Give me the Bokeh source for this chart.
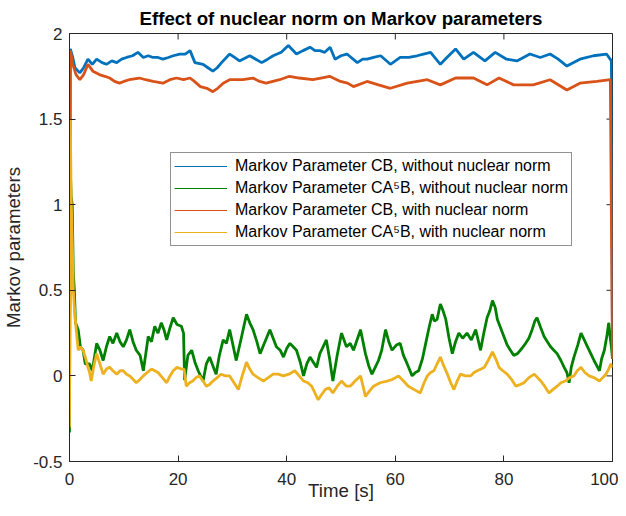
import math
from bokeh.plotting import figure
from bokeh.models import LinearAxis, Range1d, FixedTicker, Legend, LegendItem, ColumnDataSource
from bokeh.embed import file_html
from bokeh.resources import INLINE

title_text = "Effect of nuclear norm on Markov parameters"
x_label = "Time [s]"
y_label = "Markov parameters"
x_min, x_max = 0, 100
y_min, y_max = -0.5, 2
x_ticks = [0, 20, 40, 60, 80, 100]
x_tick_labels = ["0", "20", "40", "60", "80", "100"]
y_ticks = [-0.5, 0, 0.5, 1, 1.5, 2]
y_tick_labels = ["-0.5", "0", "0.5", "1", "1.5", "2"]

series_names = [
    "Markov Parameter CB, without nuclear norm",
    "Markov Parameter CA\u2075B, without nuclear norm",
    "Markov Parameter CB, with nuclear norm",
    "Markov Parameter CA\u2075B, with nuclear norm",
]
series_colors = ["#0072BD", "#008000", "#D95319", "#EDB120"]

# CB, without nuclear norm (blue)
t_cb_wo = [0, 0.15, 0.6, 1.0, 1.9, 2.6, 3.4, 4.2, 5, 6, 6.8, 7.8, 8.7, 9.6, 10.5, 11.6, 12.6, 13.6,
           14.5, 15.4, 16.3, 17.2, 18.2, 19.1, 20.3, 21.3, 22.2, 23.1, 24.6, 25.5, 26.4, 27.2, 28,
           29.5, 30.4, 31.3, 33.2, 34.3, 35.4, 36.5, 37.5, 39, 40.3, 41.8, 43, 44.3, 45.2, 46.1, 47,
           48, 48.9, 50, 51.1, 53, 54, 54.8, 56, 57.3, 59.1, 60.9, 62.5, 64, 65.2, 66.5, 68.3, 69.5,
           71.1, 72.6, 74.4, 76.5, 78.4, 80.5, 82.4, 84.8, 86.7, 88.5, 90, 91.6, 94, 96.5, 98.9,
           99.8, 100]
v_cb_wo = [0.05, 1.91, 1.86, 1.80, 1.77, 1.80, 1.85, 1.82, 1.85, 1.83, 1.82, 1.84, 1.83, 1.85, 1.86,
           1.87, 1.89, 1.86, 1.87, 1.86, 1.86, 1.85, 1.86, 1.87, 1.88, 1.88, 1.90, 1.83, 1.82, 1.80,
           1.78, 1.80, 1.83, 1.88, 1.86, 1.84, 1.87, 1.85, 1.83, 1.85, 1.87, 1.89, 1.93, 1.88, 1.90,
           1.92, 1.90, 1.90, 1.89, 1.92, 1.85, 1.87, 1.88, 1.83, 1.85, 1.85, 1.86, 1.87, 1.82, 1.86,
           1.86, 1.87, 1.88, 1.89, 1.82, 1.86, 1.91, 1.85, 1.89, 1.84, 1.89, 1.85, 1.84, 1.88, 1.86,
           1.88, 1.85, 1.81, 1.85, 1.87, 1.88, 1.84, 0.1]

# CA^5B, without nuclear norm (green)
t_ca5b_wo = [0, 0.15, 0.3, 0.5, 0.7, 0.9, 1.1, 1.6, 2.0, 2.5, 2.9, 3.7, 4.2, 5, 5.6, 6.2, 6.8, 7.4,
             8.0, 8.7, 9.3, 9.9, 10.5, 11.1, 11.7, 12.3, 13, 13.6, 14.5, 15.1, 15.7, 16.3, 16.9, 17.4,
             17.9, 18.5, 19.1, 19.8, 20.6, 21.0, 21.2, 21.8, 22.5, 23.1, 23.7, 24.6, 25.2, 25.8, 26.4,
             27, 27.6, 28.3, 28.9, 29.5, 30.1, 30.7, 31.7, 32.6, 33.2, 33.8, 34.5, 35.1, 36, 36.9,
             37.5, 38.1, 38.8, 39.4, 40, 40.6, 41.2, 41.8, 42.5, 43.1, 43.7, 44.3, 44.9, 45.5, 46.1,
             46.7, 47.3, 47.9, 48.5, 49.3, 50.1, 51, 51.7, 52.3, 53.6, 54.5, 55.1, 55.7, 56.3, 56.9,
             57.5, 58.2, 58.8, 59.4, 60.2, 60.9, 61.5, 62.2, 63.1, 63.7, 64.3, 65, 65.6, 66.2, 66.8,
             67.2, 67.7, 68.3, 68.8, 69.3, 69.9, 70.5, 71.1, 71.7, 72.4, 73.2, 74, 74.8, 75.7, 76.3,
             76.9, 77.4, 77.9, 78.4, 78.8, 79.4, 80, 80.6, 81.2, 81.8, 82.5, 83.3, 84, 84.6, 85.2,
             85.7, 86.1, 86.8, 87.4, 88, 88.6, 89.2, 89.8, 90.5, 91.1, 91.6, 92, 92.4, 92.9, 93.6,
             94.2, 94.8, 95.4, 96, 96.6, 97.1, 97.6, 98, 98.5, 99, 99.3, 99.6, 99.8, 100]
v_ca5b_wo = [-0.33, 1.21, 1.05, 1.0, 0.6, 0.5, 0.31, 0.27, 0.17, 0.15, 0.07, 0.07, 0.03, 0.19, 0.15,
             0.09, 0.17, 0.23, 0.19, 0.25, 0.20, 0.17, 0.21, 0.27, 0.20, 0.15, 0.12, 0.03, 0.23, 0.20,
             0.29, 0.25, 0.31, 0.27, 0.21, 0.28, 0.34, 0.30, 0.29, 0.25, -0.025, 0.12, 0.15, 0.08,
             0.03, -0.03, 0.07, 0.11, 0.06, 0.01, 0.12, 0.21, 0.19, 0.27, 0.18, 0.09, 0.23, 0.36,
             0.31, 0.27, 0.20, 0.13, 0.20, 0.27, 0.22, 0.17, 0.15, 0.11, 0.16, 0.19, 0.17, 0.15,
             0.08, 0.0, 0.07, 0.11, 0.08, 0.05, 0.13, 0.17, 0.21, 0.10, -0.03, 0.12, 0.25, 0.17,
             0.19, 0.15, 0.27, 0.13, 0.06, 0.01, 0.05, 0.09, 0.15, 0.27, 0.20, 0.15, 0.18, 0.19,
             0.12, 0.07, 0.0, 0.02, 0.03, 0.10, 0.19, 0.28, 0.36, 0.32, 0.33, 0.42, 0.38, 0.33,
             0.22, 0.13, 0.20, 0.25, 0.22, 0.25, 0.21, 0.27, 0.15, 0.25, 0.34, 0.38, 0.44, 0.40,
             0.33, 0.28, 0.23, 0.18, 0.15, 0.12, 0.13, 0.16, 0.19, 0.22, 0.27, 0.32, 0.34, 0.28,
             0.23, 0.20, 0.17, 0.15, 0.13, 0.09, 0.05, 0.02, -0.04, 0.05, 0.11, 0.18, 0.25, 0.21,
             0.17, 0.13, 0.09, 0.06, 0.03, 0.10, 0.15, 0.24, 0.31, 0.22, 0.17, 0.1]

# CB, with nuclear norm (orange)
t_cb_w = [0, 0.15, 0.6, 1.2, 1.9, 2.6, 3.4, 4.3, 5.5, 6.5, 7.4, 8.3, 9.2, 10, 11, 12.9, 14, 15.4,
          17.2, 18.5, 19.7, 21, 22.2, 23, 24.1, 25.3, 26.4, 27.3, 28.3, 29.5, 31.9, 33.8, 35, 36.2,
          38.7, 40.5, 42.3, 44.8, 46.3, 47.9, 49.9, 51.2, 52.3, 54.8, 56.9, 59.1, 62.2, 65.9, 68.3,
          71.1, 74.4, 76.9, 79.1, 81.8, 85.4, 88.5, 91.6, 94, 97.1, 99.6, 100]
v_cb_w = [0.05, 1.90, 1.82, 1.76, 1.73, 1.76, 1.82, 1.78, 1.76, 1.75, 1.74, 1.72, 1.71, 1.72, 1.73,
          1.74, 1.73, 1.72, 1.71, 1.73, 1.74, 1.73, 1.74, 1.72, 1.69, 1.68, 1.66, 1.68, 1.71, 1.73,
          1.73, 1.74, 1.72, 1.71, 1.73, 1.75, 1.74, 1.73, 1.74, 1.75, 1.72, 1.71, 1.69, 1.72, 1.70,
          1.68, 1.71, 1.73, 1.70, 1.74, 1.74, 1.70, 1.74, 1.70, 1.70, 1.73, 1.67, 1.71, 1.72, 1.73,
          0.1]

# CA^5B, with nuclear norm (yellow)
t_ca5b_w = [0, 0.15, 0.3, 0.5, 0.7, 1.0, 1.3, 1.6, 2.0, 2.5, 3.0, 3.4, 3.7, 4.0, 4.5, 5.0, 5.6, 6.2,
            6.8, 7.4, 8.0, 8.7, 9.3, 9.9, 10.5, 11.1, 11.7, 12.3, 13, 13.6, 14.3, 15.1, 15.7, 16.3,
            17.1, 17.9, 18.5, 19.1, 19.8, 20.6, 21.1, 21.5, 22.1, 22.7, 23.3, 23.9, 24.6, 25.2, 25.8,
            26.4, 27.2, 27.9, 28.7, 29.5, 30.3, 31.1, 31.8, 32.6, 33.2, 33.8, 34.7, 35.7, 36.6, 37.5,
            38.4, 39.4, 40.4, 41.5, 42.3, 43.1, 43.9, 44.6, 45.2, 45.8, 46.4, 47.1, 47.8, 48.5, 49.3,
            50.1, 51, 51.7, 52.6, 53.6, 54.5, 55.2, 56, 57.2, 58.5, 59.5, 60.6, 61.5, 62.4, 63.5,
            64.6, 65.3, 65.9, 66.5, 67.1, 67.7, 68.3, 68.9, 69.6, 70.2, 70.8, 71.4, 72, 72.9, 73.9,
            74.5, 75.1, 75.8, 76.4, 77.1, 77.9, 78.5, 79.1, 79.8, 80.6, 81.4, 82.2, 83, 83.7, 84.6,
            85.6, 86.2, 86.8, 87.5, 88.3, 89, 89.8, 90.5, 91.3, 92.1, 92.9, 93.5, 94.2, 94.9, 95.7,
            96.6, 97.6, 98.2, 98.8, 99.3, 99.7, 100]
v_ca5b_w = [-0.3, 1.5, 1.05, 0.8, 0.5, 0.35, 0.25, 0.15, 0.17, 0.15, 0.10, 0.05, 0.02, -0.03, 0.06,
            0.13, 0.07, 0.01, 0.04, 0.05, 0.03, 0.01, 0.03, 0.03, 0.01, 0.0, -0.02, -0.04, -0.02,
            0.0, 0.02, 0.04, 0.03, 0.02, -0.01, -0.04, 0.0, 0.03, 0.05, 0.04, 0.04, -0.06, -0.04,
            -0.03, -0.01, 0.0, -0.03, -0.06, -0.05, -0.03, -0.01, 0.01, 0.0, 0.0, -0.04, -0.08, 0.0,
            0.08, 0.04, 0.01, -0.01, -0.03, -0.01, 0.01, 0.01, 0.0, 0.01, 0.03, 0.0, -0.03, -0.04,
            -0.06, -0.10, -0.14, -0.11, -0.08, -0.07, -0.10, -0.06, -0.03, -0.06, -0.06, -0.03, 0.0,
            -0.12, -0.09, -0.06, -0.04, -0.03, -0.02, 0.0, -0.03, -0.06, -0.08, -0.10, -0.04, 0.0,
            0.02, 0.03, 0.07, 0.11, 0.06, 0.01, -0.04, -0.08, -0.03, 0.01, 0.0, 0.0, 0.02, 0.03,
            0.04, 0.05, 0.09, 0.14, 0.10, 0.05, 0.03, 0.01, -0.02, -0.06, -0.05, -0.04, -0.01, 0.01,
            -0.01, -0.03, -0.06, -0.10, -0.08, -0.06, -0.04, -0.03, -0.01, 0.0, 0.03, 0.05, 0.02,
            0.0, -0.01, -0.03, -0.01, 0.01, 0.04, 0.07, 0.05]

series_t = [t_cb_wo, t_ca5b_wo, t_cb_w, t_ca5b_w]
series_v = [v_cb_wo, v_ca5b_wo, v_cb_w, v_ca5b_w]

FONT = "Liberation Sans"
AX = "#262626"

p = figure(frame_width=543, frame_height=428, output_backend="svg", toolbar_location=None,
           x_range=Range1d(x_min, x_max), y_range=Range1d(y_min, y_max),
           x_axis_location=None, y_axis_location=None,
           min_border_left=61, min_border_right=6, min_border_top=25, min_border_bottom=0)
p.grid.visible = False
p.outline_line_color = AX
p.outline_line_width = 1
p.background_fill_color = "white"
p.border_fill_color = "white"

p.title.text = title_text
p.title.align = "center"
p.title.text_font = FONT
p.title.text_font_size = "18.7px"
p.title.text_font_style = "bold"
p.title.text_color = "#000000"
p.title.standoff = 10


def style_axis(ax):
    ax.major_tick_in = 6
    ax.major_tick_out = 0
    ax.minor_tick_in = 0
    ax.minor_tick_out = 0
    ax.axis_line_color = AX
    ax.axis_line_width = 1
    ax.major_tick_line_color = AX
    ax.major_label_text_color = AX
    ax.major_label_text_font = FONT
    ax.major_label_text_font_size = "17px"
    ax.axis_label_text_font = FONT
    ax.axis_label_text_font_style = "normal"
    ax.axis_label_text_color = AX
    ax.axis_label_text_font_size = "18.7px"


xb = LinearAxis(ticker=FixedTicker(ticks=x_ticks),
                major_label_overrides=dict(zip(x_ticks, x_tick_labels)), axis_label=x_label)
style_axis(xb)
xb.major_label_standoff = 11
xb.axis_label_standoff = -8
p.add_layout(xb, "below")

yl = LinearAxis(ticker=FixedTicker(ticks=y_ticks),
                major_label_overrides=dict(zip(y_ticks, y_tick_labels)), axis_label=y_label)
style_axis(yl)
yl.major_label_standoff = 7
yl.axis_label_standoff = 6
p.add_layout(yl, "left")

# inward ticks along the top and right edges of the box (MATLAB style)
p.ray(x=x_ticks, y=[y_max] * len(x_ticks), length=6, length_units="screen",
      angle=-math.pi / 2, line_color=AX, line_width=1)
p.ray(x=[x_max] * len(y_ticks), y=y_ticks, length=6, length_units="screen",
      angle=math.pi, line_color=AX, line_width=1)

items = []
for name, color, tt, vv in zip(series_names, series_colors, series_t, series_v):
    src = ColumnDataSource(data=dict(t=tt, v=vv))
    p.line("t", "v", source=src, line_color=color, line_width=2.8)
    thin = p.line("t", "v", source=src, line_color=color, line_width=1)
    items.append(LegendItem(label=name, renderers=[thin]))

legend = Legend(items=items, location=(101, 215), orientation="vertical",
                border_line_color=AX, border_line_width=0.6,
                background_fill_color="white", background_fill_alpha=1.0,
                label_text_font=FONT, label_text_font_size="16px", label_text_color="#000000",
                glyph_width=53, glyph_height=20, label_height=20, label_standoff=8,
                padding=3, spacing=2, margin=0)
p.add_layout(legend)

open("out.html", "w").write(file_html(p, INLINE))
